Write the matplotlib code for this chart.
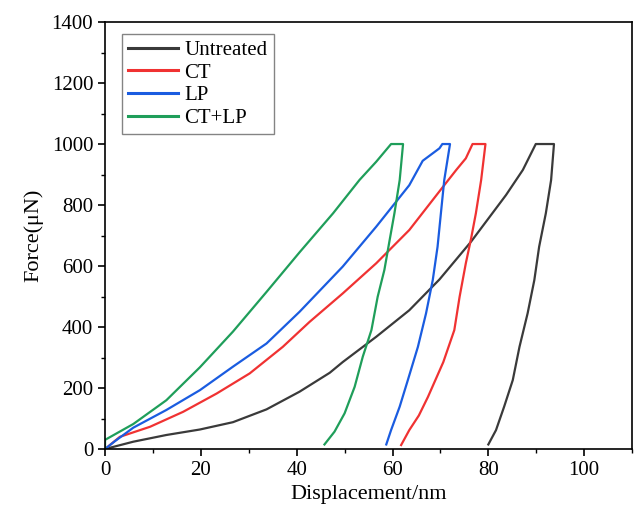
import matplotlib
matplotlib.use("Agg")
import matplotlib.pyplot as plt
from matplotlib.ticker import MultipleLocator

plt.rcParams['font.family'] = ['Liberation Serif', 'DejaVu Serif']

# load then unload points (displacement nm, force uN)
untreated_x = [0, 5.9, 12.8, 19.8, 26.7, 33.7, 40.6, 46.9, 49.6, 56.6, 63.5, 69.8, 76.4,
               83.7, 87.2, 89.9, 93.7,
               93.1, 92.0, 90.6, 89.6, 88.2, 86.5, 85.1, 83.3, 81.6, 80.0]
untreated_y = [0, 24, 46, 64, 88, 130, 188, 250, 285, 368, 455, 556, 680,
               833, 915, 1000, 1000,
               882, 773, 663, 554, 445, 335, 226, 139, 62, 15]

ct_x = [0, 3.1, 9.4, 16.3, 23.3, 30.2, 37.1, 42.7, 49.6, 56.6, 63.5, 70.0, 73.3, 75.3,
        76.7, 79.4,
        78.5, 77.4, 76.4, 75.3, 74.0, 72.9, 70.6, 67.4, 65.5, 63.5, 61.8]
ct_y = [0, 40, 73, 122, 182, 248, 335, 417, 510, 609, 718, 849, 915, 953,
        1000, 1000,
        882, 773, 690, 609, 499, 390, 285, 171, 110, 62, 13]

lp_x = [0, 2.0, 5.9, 12.8, 19.8, 26.7, 33.7, 40.6, 49.6, 56.6, 63.5, 66.3, 69.8, 70.4, 72.0,
        70.8, 70.1, 69.4, 68.4, 67.0, 65.3, 63.2, 61.5, 59.7, 58.7]
lp_y = [0, 25, 70, 128, 193, 270, 346, 450, 598, 729, 865, 945, 986, 1000, 1000,
        882, 773, 663, 554, 445, 335, 226, 139, 62, 15]

ctlp_x = [0, 0, 5.9, 12.8, 19.8, 26.7, 33.7, 40.6, 47.6, 53.1, 56.6, 59.7, 62.2,
          61.5, 60.4, 59.4, 58.3, 56.9, 55.6, 53.8, 52.1, 50.0, 47.9, 45.8]
ctlp_y = [0, 30, 82, 160, 268, 385, 515, 645, 773, 882, 942, 1000, 1000,
          882, 773, 685, 587, 499, 390, 303, 204, 117, 57, 15]

labels = ['Untreated', 'CT', 'LP', 'CT+LP']
colors = ['#3a3a3a', '#f03232', '#1a5ce0', '#1f9e5a']

fig = plt.figure(figsize=(6.35, 5.16), dpi=100)
ax = fig.add_axes([0.1654, 0.1298, 0.830, 0.8275])

series = [(untreated_x, untreated_y), (ct_x, ct_y), (lp_x, lp_y), (ctlp_x, ctlp_y)]
for (xs, ys), lab, c in zip(series, labels, colors):
    ax.plot(xs, ys, color=c, lw=1.6, label=lab)

ax.set_xlim(0, 110)
ax.set_ylim(0, 1400)
ax.xaxis.set_major_locator(MultipleLocator(20))
ax.xaxis.set_minor_locator(MultipleLocator(10))
ax.yaxis.set_major_locator(MultipleLocator(200))
ax.yaxis.set_minor_locator(MultipleLocator(100))
ax.tick_params(which='major', direction='out', length=5, width=1.2, labelsize=15)
ax.tick_params(which='minor', direction='out', length=3, width=1.0)
for s in ax.spines.values():
    s.set_linewidth(1.2)

ax.set_xlabel('Displacement/nm', fontsize=16, labelpad=4)
ax.set_ylabel('Force(μN)', fontsize=16, labelpad=6)

leg = ax.legend(loc='upper left', bbox_to_anchor=(0.032, 0.972), borderaxespad=0,
                fontsize=15, frameon=True, fancybox=False, handlelength=2.4,
                handletextpad=0.3, labelspacing=0.15, borderpad=0.3)
leg.get_frame().set_edgecolor('#666666')
leg.get_frame().set_linewidth(1.0)
for line in leg.get_lines():
    line.set_linewidth(2.2)

fig.savefig('out.png', dpi=100)
